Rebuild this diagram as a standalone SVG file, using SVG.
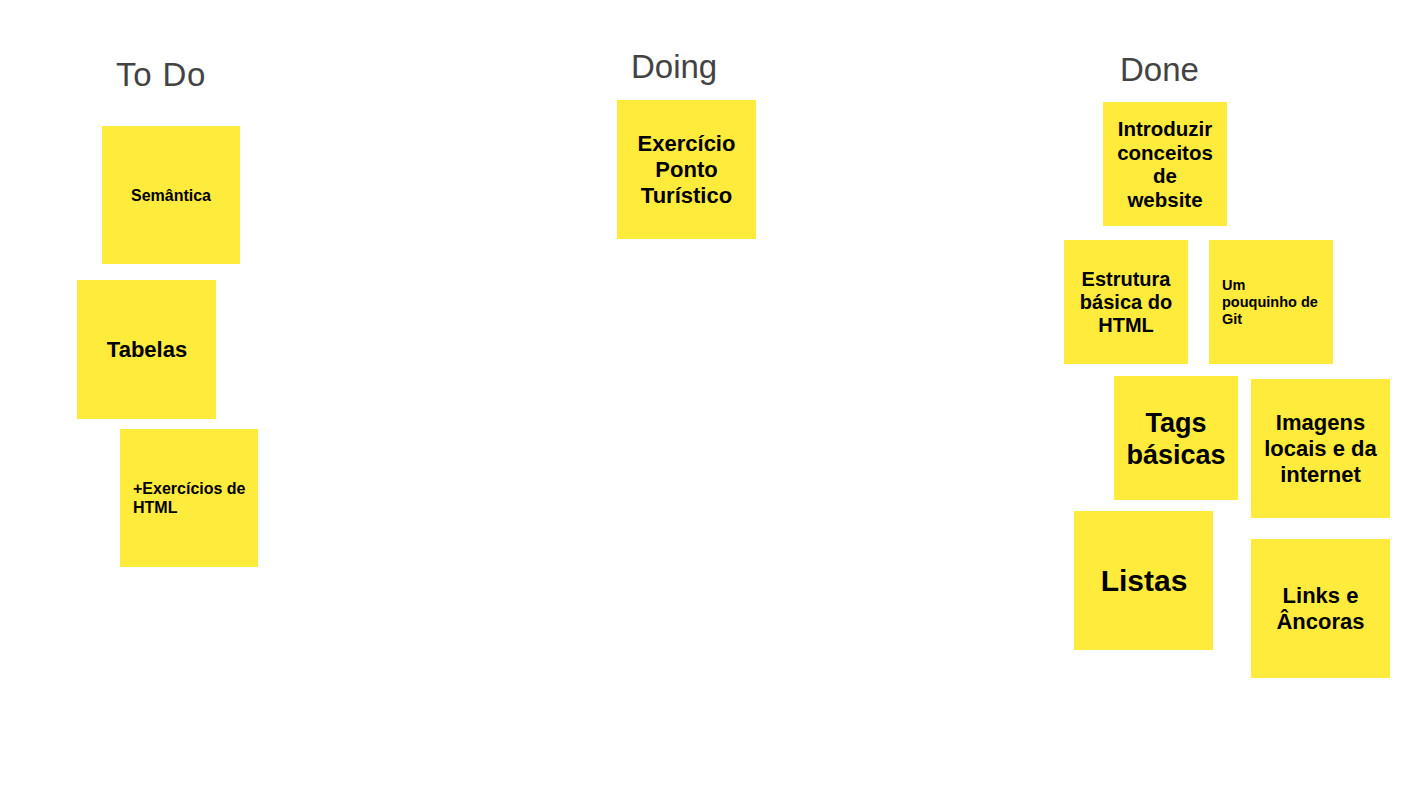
<svg xmlns="http://www.w3.org/2000/svg" width="1422" height="800" viewBox="0 0 1422 800">
<style>
.bg{fill:#ffffff}
.note{fill:#ffeb3b}
.title{font-family:"Liberation Sans",Arial,sans-serif;font-size:33px;fill:#434343}
.t{font-family:"Liberation Sans",Arial,sans-serif;font-weight:bold;fill:#000000;text-anchor:middle}
.l{font-family:"Liberation Sans",Arial,sans-serif;font-weight:bold;fill:#000000}
</style>
<rect class="bg" x="0" y="0" width="1422" height="800"/>
<g id="titles">
<text class="title" x="116" y="85.5" letter-spacing="0.8">To Do</text>
<text class="title" x="631" y="77.5">Doing</text>
<text class="title" x="1120" y="80.5">Done</text>
</g>
<g id="connectors"></g>
<g id="semantica">
<rect class="note" x="102" y="126" width="138" height="138"/>
<text class="t" x="171" y="200.5" font-size="16">Semântica</text>
</g>
<g id="tabelas">
<rect class="note" x="77" y="280" width="139" height="139"/>
<text class="t" x="147" y="356.5" font-size="22">Tabelas</text>
</g>
<g id="exercicios-html">
<rect class="note" x="120" y="429" width="138" height="138"/>
<text class="l" x="133" y="493.5" font-size="16">+Exercícios de</text>
<text class="l" x="133" y="512.5" font-size="16">HTML</text>
</g>
<g id="ponto-turistico">
<rect class="note" x="617" y="100" width="139" height="139"/>
<text class="t" x="686.5" y="150.5" font-size="22">Exercício</text>
<text class="t" x="686.5" y="176.5" font-size="22">Ponto</text>
<text class="t" x="686.5" y="202.5" font-size="22">Turístico</text>
</g>
<g id="introduzir">
<rect class="note" x="1103" y="102" width="124" height="124"/>
<text class="t" x="1165" y="136" font-size="20.5">Introduzir</text>
<text class="t" x="1165" y="159.5" font-size="20.5">conceitos</text>
<text class="t" x="1165" y="183" font-size="20.5">de</text>
<text class="t" x="1165" y="206.5" font-size="20.5">website</text>
</g>
<g id="estrutura">
<rect class="note" x="1064" y="240" width="124" height="124"/>
<text class="t" x="1126" y="286" font-size="20">Estrutura</text>
<text class="t" x="1126" y="309" font-size="20">básica do</text>
<text class="t" x="1126" y="332" font-size="20">HTML</text>
</g>
<g id="git">
<rect class="note" x="1209" y="240" width="124" height="124"/>
<text class="l" x="1222" y="290" font-size="14.5">Um</text>
<text class="l" x="1222" y="307" font-size="14.5">pouquinho de</text>
<text class="l" x="1222" y="324" font-size="14.5">Git</text>
</g>
<g id="tags">
<rect class="note" x="1114" y="376" width="124" height="124"/>
<text class="t" x="1176" y="431.5" font-size="27">Tags</text>
<text class="t" x="1176" y="463.5" font-size="27">básicas</text>
</g>
<g id="imagens">
<rect class="note" x="1251" y="379" width="139" height="139"/>
<text class="t" x="1320.5" y="429.5" font-size="22">Imagens</text>
<text class="t" x="1320.5" y="455.5" font-size="22">locais e da</text>
<text class="t" x="1320.5" y="481.5" font-size="22">internet</text>
</g>
<g id="listas">
<rect class="note" x="1074" y="511" width="139" height="139"/>
<text class="t" x="1144" y="590.5" font-size="30">Listas</text>
</g>
<g id="links">
<rect class="note" x="1251" y="539" width="139" height="139"/>
<text class="t" x="1320.5" y="602.5" font-size="22">Links e</text>
<text class="t" x="1320.5" y="628.5" font-size="22">Âncoras</text>
</g>
</svg>
